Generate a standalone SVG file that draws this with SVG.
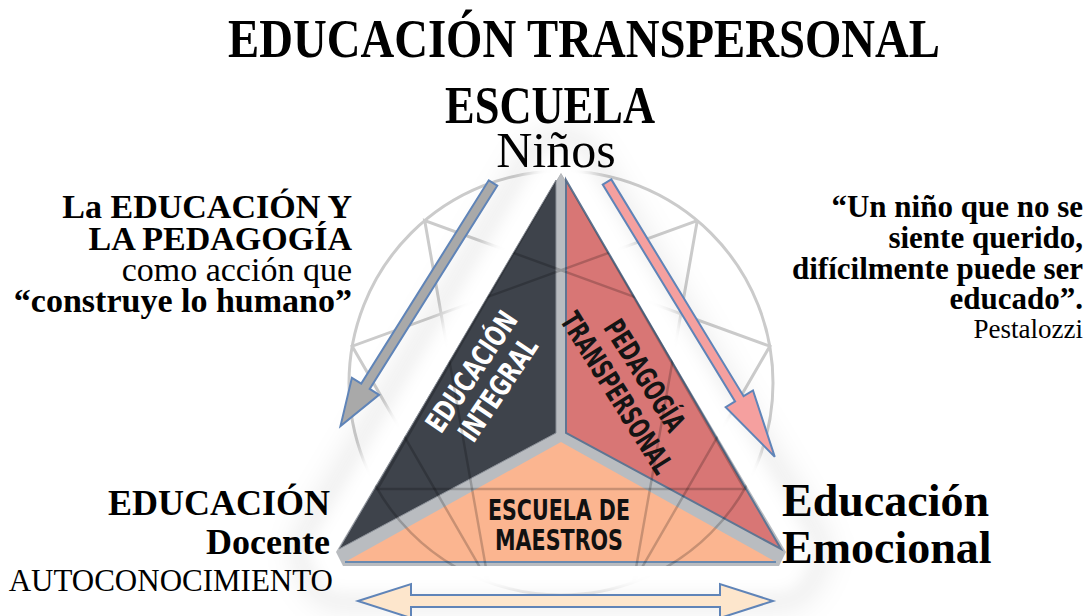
<svg xmlns="http://www.w3.org/2000/svg" width="1090" height="616" viewBox="0 0 1090 616">
  <defs>
    <style>
      .serif-b { font-family: "Liberation Serif", "Times New Roman", serif; font-weight: bold; fill: #000; }
      .serif-r { font-family: "Liberation Serif", "Times New Roman", serif; font-weight: normal; fill: #000; }
      .cond { font-family: "DejaVu Sans Condensed", "DejaVu Sans", sans-serif; font-weight: bold; }
      .enn { fill: none; stroke: #cbcbcb; stroke-width: 3; }
      .enn-over { fill: none; stroke: #000; stroke-opacity: 0.2; stroke-width: 2.5; }
      .arrow { stroke: #5f84b8; stroke-width: 2; stroke-linejoin: miter; }
    </style>
    <filter id="blur8" x="-20%" y="-20%" width="140%" height="140%">
      <feGaussianBlur stdDeviation="8"/>
    </filter>
    <filter id="blur14" x="-20%" y="-20%" width="140%" height="140%">
      <feGaussianBlur stdDeviation="14"/>
    </filter>
    <clipPath id="triClip">
      <polygon points="561,173 336,552 343,566 779,566 786,552"/>
    </clipPath>
    <g id="ennLines">
      <circle cx="561" cy="383" r="212"/>
      <polyline points="561,171 744.6,489 377.4,489 561,171"/>
      <polyline points="697.3,220.6 633.5,582.2 769.8,346.2 424.7,220.6 488.5,582.2 352.2,346.2 697.3,220.6"/>
    </g>
  </defs>

  <rect width="1090" height="616" fill="#ffffff"/>

  <!-- Enneagram background -->
  <g id="enneagram">
    <use href="#ennLines" class="enn" stroke-width="4"/>
  </g>

  <!-- halo around triangle -->
  <g id="halo">
    <polygon points="561,173 336,552 343,566 779,566 786,552" fill="none" stroke="#000" stroke-opacity="0.07" stroke-width="90" stroke-linejoin="round" filter="url(#blur14)"/>
    <polygon points="561,173 336,552 343,566 779,566 786,552" fill="#fff" stroke="#fff" stroke-width="56" stroke-linejoin="round" filter="url(#blur8)"/>
  </g>

  <!-- Triangle base (gaps) -->
  <polygon id="tri-base" points="561,173 336,552 343,566 779,566 786,552" fill="#b9bcc0"/>

  <g id="triangle-integral">
    <polygon points="556,180 339,549 556,433" fill="#3e434b" stroke="#8b9098" stroke-width="1"/>
    <g transform="translate(484,380) rotate(-56)">
      <text class="cond" x="0" y="-5" font-size="29" fill="#fff" text-anchor="middle" textLength="139" lengthAdjust="spacingAndGlyphs">EDUCACIÓN</text>
      <text class="cond" x="0" y="27" font-size="29" fill="#fff" text-anchor="middle" textLength="118" lengthAdjust="spacingAndGlyphs">INTEGRAL</text>
    </g>
  </g>

  <g id="triangle-pedagogia">
    <polygon points="566,180 781,549 566,433" fill="#d87675" stroke="#5f7592" stroke-width="2"/>
    <g transform="translate(631,384) rotate(58)">
      <text class="cond" x="0" y="-6" font-size="29" fill="#141414" text-anchor="middle" textLength="126" lengthAdjust="spacingAndGlyphs">PEDAGOGÍA</text>
      <text class="cond" x="0" y="27" font-size="29" fill="#141414" text-anchor="middle" textLength="184" lengthAdjust="spacingAndGlyphs">TRANSPERSONAL</text>
    </g>
  </g>

  <g id="triangle-escuela">
    <polygon points="561,442 776,562 345,562" fill="#fbb590"/>
    <line x1="345" y1="562" x2="776" y2="562" stroke="#6a8ab0" stroke-width="2"/>
  </g>

  <!-- enneagram lines seen through the triangle -->
  <g clip-path="url(#triClip)">
    <use href="#ennLines" class="enn-over"/>
  </g>

  <g id="triangle-labels">
    <text class="cond" x="559" y="520" font-size="28" fill="#111" text-anchor="middle" textLength="142" lengthAdjust="spacingAndGlyphs">ESCUELA DE</text>
    <text class="cond" x="559" y="550" font-size="28" fill="#111" text-anchor="middle" textLength="128" lengthAdjust="spacingAndGlyphs">MAESTROS</text>
  </g>

  <!-- connectors -->
  <g id="connectors">
    <polygon class="arrow" fill="#a9a9a9" transform="translate(493,183) rotate(122.1)" points="0,-5 240,-5 240,-16 287,0 240,16 240,5 0,5"/>
    <polygon class="arrow" fill="#f5a09f" transform="translate(607,182) rotate(58.6)" points="0,-5 254,-5 254,-16 322,0 254,16 254,5 0,5"/>
    <polygon class="arrow" fill="#fde6cc" stroke-width="2.5" points="358,601 411,584 411,595 720,595 720,584 773,601 720,618 720,607 411,607 411,618"/>
  </g>

  <g id="title">
    <text class="serif-b" x="584" y="57" font-size="54" text-anchor="middle" textLength="712" lengthAdjust="spacingAndGlyphs">EDUCACIÓN TRANSPERSONAL</text>
  </g>

  <g id="escuela">
    <text class="serif-b" x="550" y="123" font-size="52" text-anchor="middle" textLength="210" lengthAdjust="spacingAndGlyphs">ESCUELA</text>
    <text class="serif-r" x="556" y="167" font-size="50" text-anchor="middle">Niños</text>
  </g>

  <g id="left-text" text-anchor="end">
    <text class="serif-b" x="352" y="218" font-size="34">La EDUCACIÓN Y</text>
    <text class="serif-b" x="352" y="250" font-size="34">LA PEDAGOGÍA</text>
    <text class="serif-r" x="352" y="281" font-size="34">como acción que</text>
    <text class="serif-b" x="352" y="312" font-size="34">“construye lo humano”</text>
  </g>

  <g id="right-text" text-anchor="end">
    <text class="serif-b" x="1083" y="217" font-size="31">“Un niño que no se</text>
    <text class="serif-b" x="1083" y="248" font-size="31">siente querido,</text>
    <text class="serif-b" x="1083" y="279" font-size="31">difícilmente puede ser</text>
    <text class="serif-b" x="1083" y="309" font-size="31">educado”.</text>
    <text class="serif-r" x="1083" y="338" font-size="27">Pestalozzi</text>
  </g>

  <g id="bottom-left" text-anchor="end">
    <text class="serif-b" x="330" y="515" font-size="36">EDUCACIÓN</text>
    <text class="serif-b" x="330" y="554" font-size="36">Docente</text>
    <text class="serif-r" x="333" y="591" font-size="31">AUTOCONOCIMIENTO</text>
  </g>

  <g id="bottom-right">
    <text class="serif-b" x="782" y="516" font-size="46">Educación</text>
    <text class="serif-b" x="782" y="563" font-size="46">Emocional</text>
  </g>
</svg>
